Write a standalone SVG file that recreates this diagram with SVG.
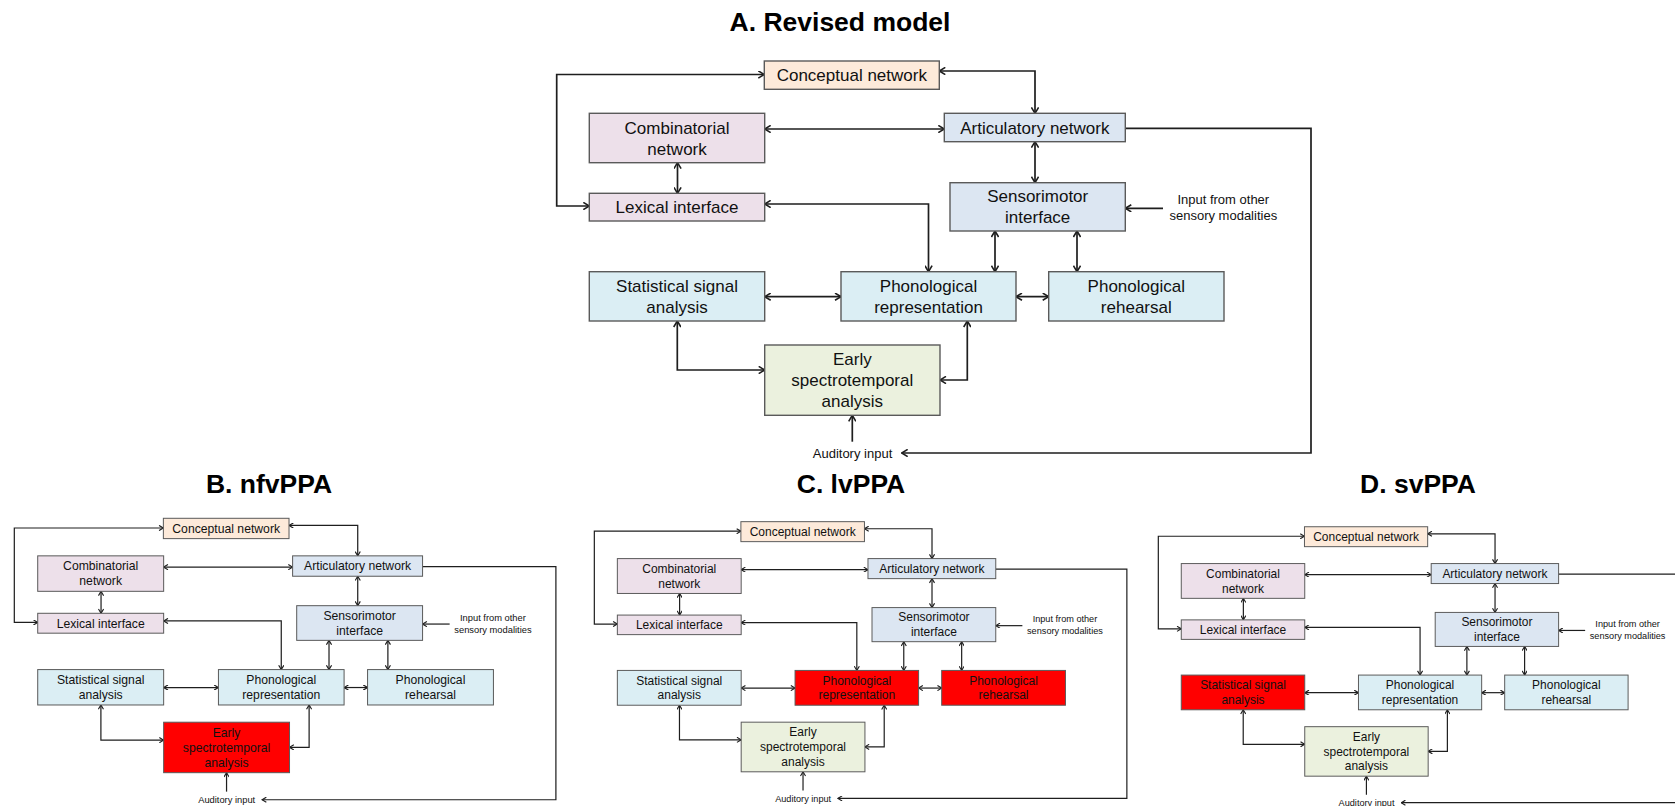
<svg xmlns="http://www.w3.org/2000/svg" width="1675" height="806" viewBox="0 0 1675 806">
<style>
.bg{fill:#fff}
.box{stroke:#5a5a5a;stroke-width:1.4}
.conc{fill:#FDEADA}.comb{fill:#EDE0EA}.art{fill:#DCE6F2}.phon{fill:#DBEEF4}.early{fill:#EBF1DE}.red{fill:#FF0000}
.t{font-family:"Liberation Sans",Arial,sans-serif;font-size:17px;fill:#111;text-anchor:middle}
.s{font-size:13px}
.title{font-family:"Liberation Sans",Arial,sans-serif;font-weight:bold;font-size:26.5px;fill:#000;text-anchor:middle}
.c{fill:none;stroke:#1e1e1e;stroke-width:1.7}
.b2{marker-start:url(#ah);marker-end:url(#ah)}
.b1{marker-end:url(#ah)}
</style>
<defs>
<marker id="ah" viewBox="0 0 10 10" refX="9" refY="5" markerWidth="8" markerHeight="8" markerUnits="userSpaceOnUse" orient="auto-start-reverse">
<path d="M1.5,0.5 L9,5 L1.5,9.5" fill="none" stroke="#1e1e1e" stroke-width="2"/>
</marker>
</defs>
<rect class="bg" x="0" y="0" width="1675" height="806"/>

<text class="title" x="840" y="31">A. Revised model</text>
<text class="title" x="269" y="492.5">B. nfvPPA</text>
<text class="title" x="851" y="492.5">C. lvPPA</text>
<text class="title" x="1418" y="492.5">D. svPPA</text>

<!-- Panel A -->
<g id="panelA">
<g id="a-connectors">
<path class="c b2" d="M764.3,74.5 H556.7 V206 H589.3"/>
<path class="c b2" d="M939.3,71 H1035 V113.3"/>
<path class="c b2" d="M764.7,129 H944.3"/>
<path class="c b2" d="M677.5,162.7 V193.3"/>
<path class="c b2" d="M1035,141.7 V182.7"/>
<path class="c b2" d="M764.7,204 H928.5 V271.7"/>
<path class="c b1" d="M1163,208.3 H1125.3"/>
<path class="c b1" d="M1125.3,128.3 H1311 V453 H901.7"/>
<path class="c b2" d="M995,231 V271.7"/>
<path class="c b2" d="M1077,231 V271.7"/>
<path class="c b2" d="M764.7,296.7 H841"/>
<path class="c b2" d="M1016,296.7 H1048.7"/>
<path class="c b2" d="M677.3,321 V370 H764.7"/>
<path class="c b2" d="M967.3,321 V380 H940"/>
<path class="c b1" d="M852.3,441.7 V415.3"/>
</g>
<g id="a-conceptual"><rect class="box conc" x="764.3" y="61" width="175" height="28.3"/><text class="t" x="851.8" y="81.2">Conceptual network</text></g>
<g id="a-combinatorial"><rect class="box comb" x="589.3" y="113.3" width="175.4" height="49.4"/><text class="t" x="677" y="133.5">Combinatorial</text><text class="t" x="677" y="154.5">network</text></g>
<g id="a-articulatory"><rect class="box art" x="944.3" y="113.3" width="181" height="28.4"/><text class="t" x="1034.8" y="133.5">Articulatory network</text></g>
<g id="a-lexical"><rect class="box comb" x="589.3" y="193.3" width="175.4" height="27.7"/><text class="t" x="677" y="213.2">Lexical interface</text></g>
<g id="a-sensorimotor"><rect class="box art" x="950" y="182.7" width="175.3" height="48.3"/><text class="t" x="1037.7" y="202.4">Sensorimotor</text><text class="t" x="1037.7" y="223.4">interface</text></g>
<g id="a-statistical"><rect class="box phon" x="589.3" y="271.7" width="175.4" height="49.3"/><text class="t" x="677" y="291.8">Statistical signal</text><text class="t" x="677" y="312.8">analysis</text></g>
<g id="a-phonrep"><rect class="box phon" x="841" y="271.7" width="175" height="49.3"/><text class="t" x="928.5" y="291.8">Phonological</text><text class="t" x="928.5" y="312.8">representation</text></g>
<g id="a-phonreh"><rect class="box phon" x="1048.7" y="271.7" width="175.3" height="49.3"/><text class="t" x="1136.3" y="291.8">Phonological</text><text class="t" x="1136.3" y="312.8">rehearsal</text></g>
<g id="a-early"><rect class="box early" x="764.7" y="345" width="175.3" height="70.3"/><text class="t" x="852.3" y="365.2">Early</text><text class="t" x="852.3" y="386.2">spectrotemporal</text><text class="t" x="852.3" y="407.2">analysis</text></g>
<g id="a-input-other"><text class="t s" x="1223.3" y="203.7">Input from other</text><text class="t s" x="1223.3" y="220.3">sensory modalities</text></g>
<g id="a-auditory"><text class="t s" x="852.5" y="457.5">Auditory input</text></g>
</g>

<!-- Panel B -->
<g id="panelB" transform="translate(-385.4,474.5) scale(0.718)">
<g id="b-connectors">
<path class="c b2" d="M764.3,74.5 H556.7 V206 H589.3"/>
<path class="c b2" d="M939.3,71 H1035 V113.3"/>
<path class="c b2" d="M764.7,129 H944.3"/>
<path class="c b2" d="M677.5,162.7 V193.3"/>
<path class="c b2" d="M1035,141.7 V182.7"/>
<path class="c b2" d="M764.7,204 H928.5 V271.7"/>
<path class="c b1" d="M1163,208.3 H1125.3"/>
<path class="c b1" d="M1125.3,128.3 H1311 V453 H901.7"/>
<path class="c b2" d="M995,231 V271.7"/>
<path class="c b2" d="M1077,231 V271.7"/>
<path class="c b2" d="M764.7,296.7 H841"/>
<path class="c b2" d="M1016,296.7 H1048.7"/>
<path class="c b2" d="M677.3,321 V370 H764.7"/>
<path class="c b2" d="M967.3,321 V380 H940"/>
<path class="c b1" d="M852.3,441.7 V415.3"/>
</g>
<g id="b-conceptual"><rect class="box conc" x="764.3" y="61" width="175" height="28.3"/><text class="t" x="851.8" y="81.2">Conceptual network</text></g>
<g id="b-combinatorial"><rect class="box comb" x="589.3" y="113.3" width="175.4" height="49.4"/><text class="t" x="677" y="133.5">Combinatorial</text><text class="t" x="677" y="154.5">network</text></g>
<g id="b-articulatory"><rect class="box art" x="944.3" y="113.3" width="181" height="28.4"/><text class="t" x="1034.8" y="133.5">Articulatory network</text></g>
<g id="b-lexical"><rect class="box comb" x="589.3" y="193.3" width="175.4" height="27.7"/><text class="t" x="677" y="213.2">Lexical interface</text></g>
<g id="b-sensorimotor"><rect class="box art" x="950" y="182.7" width="175.3" height="48.3"/><text class="t" x="1037.7" y="202.4">Sensorimotor</text><text class="t" x="1037.7" y="223.4">interface</text></g>
<g id="b-statistical"><rect class="box phon" x="589.3" y="271.7" width="175.4" height="49.3"/><text class="t" x="677" y="291.8">Statistical signal</text><text class="t" x="677" y="312.8">analysis</text></g>
<g id="b-phonrep"><rect class="box phon" x="841" y="271.7" width="175" height="49.3"/><text class="t" x="928.5" y="291.8">Phonological</text><text class="t" x="928.5" y="312.8">representation</text></g>
<g id="b-phonreh"><rect class="box phon" x="1048.7" y="271.7" width="175.3" height="49.3"/><text class="t" x="1136.3" y="291.8">Phonological</text><text class="t" x="1136.3" y="312.8">rehearsal</text></g>
<g id="b-early"><rect class="box red" x="764.7" y="345" width="175.3" height="70.3"/><text class="t" x="852.3" y="365.2">Early</text><text class="t" x="852.3" y="386.2">spectrotemporal</text><text class="t" x="852.3" y="407.2">analysis</text></g>
<g id="b-input-other"><text class="t s" x="1223.3" y="203.7">Input from other</text><text class="t s" x="1223.3" y="220.3">sensory modalities</text></g>
<g id="b-auditory"><text class="t s" x="852.5" y="457.5">Auditory input</text></g>
</g>

<!-- Panel C -->
<g id="panelC" transform="translate(201.3,478.6) scale(0.706)">
<g id="c-connectors">
<path class="c b2" d="M764.3,74.5 H556.7 V206 H589.3"/>
<path class="c b2" d="M939.3,71 H1035 V113.3"/>
<path class="c b2" d="M764.7,129 H944.3"/>
<path class="c b2" d="M677.5,162.7 V193.3"/>
<path class="c b2" d="M1035,141.7 V182.7"/>
<path class="c b2" d="M764.7,204 H928.5 V271.7"/>
<path class="c b1" d="M1163,208.3 H1125.3"/>
<path class="c b1" d="M1125.3,128.3 H1311 V453 H901.7"/>
<path class="c b2" d="M995,231 V271.7"/>
<path class="c b2" d="M1077,231 V271.7"/>
<path class="c b2" d="M764.7,296.7 H841"/>
<path class="c b2" d="M1016,296.7 H1048.7"/>
<path class="c b2" d="M677.3,321 V370 H764.7"/>
<path class="c b2" d="M967.3,321 V380 H940"/>
<path class="c b1" d="M852.3,441.7 V415.3"/>
</g>
<g id="c-conceptual"><rect class="box conc" x="764.3" y="61" width="175" height="28.3"/><text class="t" x="851.8" y="81.2">Conceptual network</text></g>
<g id="c-combinatorial"><rect class="box comb" x="589.3" y="113.3" width="175.4" height="49.4"/><text class="t" x="677" y="133.5">Combinatorial</text><text class="t" x="677" y="154.5">network</text></g>
<g id="c-articulatory"><rect class="box art" x="944.3" y="113.3" width="181" height="28.4"/><text class="t" x="1034.8" y="133.5">Articulatory network</text></g>
<g id="c-lexical"><rect class="box comb" x="589.3" y="193.3" width="175.4" height="27.7"/><text class="t" x="677" y="213.2">Lexical interface</text></g>
<g id="c-sensorimotor"><rect class="box art" x="950" y="182.7" width="175.3" height="48.3"/><text class="t" x="1037.7" y="202.4">Sensorimotor</text><text class="t" x="1037.7" y="223.4">interface</text></g>
<g id="c-statistical"><rect class="box phon" x="589.3" y="271.7" width="175.4" height="49.3"/><text class="t" x="677" y="291.8">Statistical signal</text><text class="t" x="677" y="312.8">analysis</text></g>
<g id="c-phonrep"><rect class="box red" x="841" y="271.7" width="175" height="49.3"/><text class="t" x="928.5" y="291.8">Phonological</text><text class="t" x="928.5" y="312.8">representation</text></g>
<g id="c-phonreh"><rect class="box red" x="1048.7" y="271.7" width="175.3" height="49.3"/><text class="t" x="1136.3" y="291.8">Phonological</text><text class="t" x="1136.3" y="312.8">rehearsal</text></g>
<g id="c-early"><rect class="box early" x="764.7" y="345" width="175.3" height="70.3"/><text class="t" x="852.3" y="365.2">Early</text><text class="t" x="852.3" y="386.2">spectrotemporal</text><text class="t" x="852.3" y="407.2">analysis</text></g>
<g id="c-input-other"><text class="t s" x="1223.3" y="203.7">Input from other</text><text class="t s" x="1223.3" y="220.3">sensory modalities</text></g>
<g id="c-auditory"><text class="t s" x="852.5" y="457.5">Auditory input</text></g>
</g>

<!-- Panel D -->
<g id="panelD" transform="translate(766.4,483.8) scale(0.704)">
<g id="d-connectors">
<path class="c b2" d="M764.3,74.5 H556.7 V206 H589.3"/>
<path class="c b2" d="M939.3,71 H1035 V113.3"/>
<path class="c b2" d="M764.7,129 H944.3"/>
<path class="c b2" d="M677.5,162.7 V193.3"/>
<path class="c b2" d="M1035,141.7 V182.7"/>
<path class="c b2" d="M764.7,204 H928.5 V271.7"/>
<path class="c b1" d="M1163,208.3 H1125.3"/>
<path class="c b1" d="M1125.3,128.3 H1311 V453 H901.7"/>
<path class="c b2" d="M995,231 V271.7"/>
<path class="c b2" d="M1077,231 V271.7"/>
<path class="c b2" d="M764.7,296.7 H841"/>
<path class="c b2" d="M1016,296.7 H1048.7"/>
<path class="c b2" d="M677.3,321 V370 H764.7"/>
<path class="c b2" d="M967.3,321 V380 H940"/>
<path class="c b1" d="M852.3,441.7 V415.3"/>
</g>
<g id="d-conceptual"><rect class="box conc" x="764.3" y="61" width="175" height="28.3"/><text class="t" x="851.8" y="81.2">Conceptual network</text></g>
<g id="d-combinatorial"><rect class="box comb" x="589.3" y="113.3" width="175.4" height="49.4"/><text class="t" x="677" y="133.5">Combinatorial</text><text class="t" x="677" y="154.5">network</text></g>
<g id="d-articulatory"><rect class="box art" x="944.3" y="113.3" width="181" height="28.4"/><text class="t" x="1034.8" y="133.5">Articulatory network</text></g>
<g id="d-lexical"><rect class="box comb" x="589.3" y="193.3" width="175.4" height="27.7"/><text class="t" x="677" y="213.2">Lexical interface</text></g>
<g id="d-sensorimotor"><rect class="box art" x="950" y="182.7" width="175.3" height="48.3"/><text class="t" x="1037.7" y="202.4">Sensorimotor</text><text class="t" x="1037.7" y="223.4">interface</text></g>
<g id="d-statistical"><rect class="box red" x="589.3" y="271.7" width="175.4" height="49.3"/><text class="t" x="677" y="291.8">Statistical signal</text><text class="t" x="677" y="312.8">analysis</text></g>
<g id="d-phonrep"><rect class="box phon" x="841" y="271.7" width="175" height="49.3"/><text class="t" x="928.5" y="291.8">Phonological</text><text class="t" x="928.5" y="312.8">representation</text></g>
<g id="d-phonreh"><rect class="box phon" x="1048.7" y="271.7" width="175.3" height="49.3"/><text class="t" x="1136.3" y="291.8">Phonological</text><text class="t" x="1136.3" y="312.8">rehearsal</text></g>
<g id="d-early"><rect class="box early" x="764.7" y="345" width="175.3" height="70.3"/><text class="t" x="852.3" y="365.2">Early</text><text class="t" x="852.3" y="386.2">spectrotemporal</text><text class="t" x="852.3" y="407.2">analysis</text></g>
<g id="d-input-other"><text class="t s" x="1223.3" y="203.7">Input from other</text><text class="t s" x="1223.3" y="220.3">sensory modalities</text></g>
<g id="d-auditory"><text class="t s" x="852.5" y="457.5">Auditory input</text></g>
</g>
</svg>
